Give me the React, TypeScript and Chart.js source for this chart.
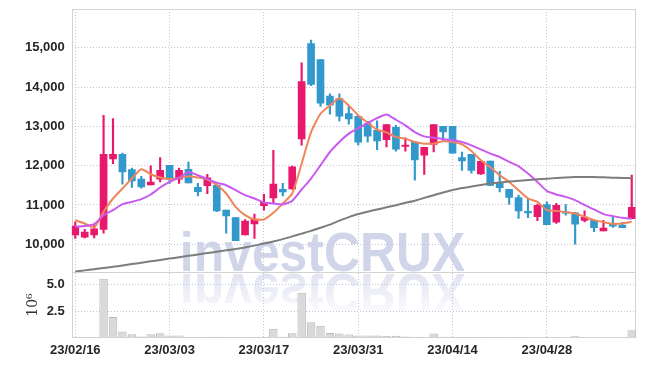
import React, { useEffect, useRef } from 'react';
import { Chart, registerables } from 'chart.js';

Chart.register(...registerables);

// ---- data ----
const tickIndex = [0, 10, 20, 30, 40, 50];
const tickLabels = ['23/02/16', '23/03/03', '23/03/17', '23/03/31', '23/04/14', '23/04/28'];

const openP = [10240, 10180, 10240, 10380, 12170, 12290, 11900, 11660, 11510, 11660,
  12010, 11660, 11910, 11450, 11490, 11500, 10870, 10680, 10240, 10520,
  10980, 11180, 11400, 11410, 12680, 15110, 14700, 13770, 13710, 13330,
  13260, 13080, 12900, 12660, 12980, 12490, 12600, 12270, 12540, 13000,
  13000, 12210, 12290, 11790, 12120, 11560, 11400, 11190, 10830, 10700,
  11010, 10560, 10820, 10800, 10610, 10610, 10340, 10510, 10490, 10650];
const highP = [10570, 10380, 10490, 13280, 13200, 12320, 11940, 11730, 12000, 12210,
  12010, 11940, 12090, 11550, 11780, 11520, 10870, 10680, 10630, 10770,
  11270, 12390, 11550, 11990, 14620, 15200, 14700, 13830, 13830, 13510,
  13260, 13130, 13140, 13050, 13030, 12710, 12600, 12470, 13050, 13000,
  13000, 12350, 12290, 12130, 12120, 11860, 11400, 11250, 11170, 11020,
  11080, 11040, 11010, 10810, 10850, 10620, 10610, 10700, 10560, 11760];
const lowP = [10150, 10160, 10160, 10280, 12050, 11530, 11450, 11430, 11510, 11590,
  11550, 11550, 11560, 11230, 11290, 10830, 10280, 10090, 10240, 10150,
  10870, 11040, 11230, 11400, 12520, 14040, 13510, 13310, 13140, 13060,
  12520, 12600, 12410, 12480, 12370, 12370, 11630, 11780, 12350, 12620,
  12320, 11880, 11810, 11780, 11490, 11330, 11020, 10660, 10680, 10600,
  10500, 10530, 10740, 10000, 10570, 10320, 10340, 10430, 10420, 10650];
const closeP = [10460, 10310, 10390, 12290, 12290, 11840, 11610, 11460, 11580, 11880,
  11650, 11880, 11560, 11340, 11690, 10850, 10720, 10090, 10590, 10640,
  11070, 11530, 11330, 11970, 14140, 14070, 13590, 13540, 13260, 13190,
  12600, 12750, 12630, 13050, 12420, 12520, 12150, 12470, 13050, 12860,
  12320, 12120, 11880, 12110, 11500, 11440, 11190, 10850, 10800, 10990,
  10500, 10990, 10790, 10510, 10690, 10420, 10410, 10460, 10420, 10940];

// volume, in millions
const volume = [0.08, 0.05, 0.05, 5.55, 1.95, 0.6, 0.33, 0.12, 0.33, 0.42,
  0.22, 0.22, 0.08, 0.06, 0.06, 0.1, 0.08, 0.08, 0.06, 0.08,
  0.06, 0.86, 0.1, 0.42, 4.24, 1.45, 1.14, 0.45, 0.4, 0.3,
  0.22, 0.22, 0.22, 0.2, 0.2, 0.12, 0.1, 0.08, 0.4, 0.1,
  0.08, 0.08, 0.06, 0.06, 0.08, 0.06, 0.05, 0.05, 0.03, 0.03,
  0.03, 0.03, 0.03, 0.15, 0.03, 0.03, 0.03, 0.03, 0.03, 0.7];

const maShort = [10614, 10530, 10429, 10825, 11165, 11419, 11673, 11909, 11782, 11699,
  11663, 11688, 11732, 11699, 11648, 11510, 11292, 10952, 10741, 10632,
  10632, 10800, 11038, 11292, 12054, 12857, 13324, 13534, 13720, 13534,
  13280, 13095, 12917, 12849, 12729, 12689, 12603, 12562, 12562, 12620,
  12603, 12544, 12374, 12138, 11960, 11757, 11587, 11376, 11165, 11079,
  10868, 10850, 10818, 10785, 10698, 10614, 10564, 10520, 10530, 10571];
const maMid = [10444, 10462, 10513, 10741, 10868, 11021, 11079, 11148, 11267, 11445,
  11587, 11699, 11833, 11757, 11663, 11565, 11503, 11376, 11249, 11165,
  11064, 11038, 11013, 11104, 11394, 11673, 12011, 12349, 12603, 12816,
  12955, 13085, 13212, 13306, 13170, 13027, 12857, 12747, 12714, 12679,
  12646, 12603, 12519, 12417, 12308, 12222, 12095, 11985, 11800, 11587,
  11359, 11267, 11206, 11122, 10995, 10886, 10767, 10716, 10673, 10647];
const maLong = [9304, 9335, 9365, 9395, 9425, 9460, 9495, 9530, 9565, 9600,
  9635, 9670, 9705, 9740, 9775, 9810, 9845, 9880, 9920, 9965,
  10020, 10070, 10130, 10200, 10270, 10340, 10420, 10500, 10600, 10690,
  10770, 10830, 10885, 10940, 10995, 11055, 11110, 11180, 11250, 11320,
  11380, 11430, 11470, 11510, 11546, 11570, 11595, 11615, 11635, 11655,
  11670, 11685, 11700, 11710, 11714, 11712, 11705, 11695, 11688, 11680];

// ---- styles ----
const UP = '#e8196c';
const DOWN = '#3399cc';
const GRID = 'rgba(185,185,210,0.85)';
const FRAME = '#d2d2d2';
const TICK_FONT = { family: "'Liberation Sans', Arial, sans-serif", size: 13, weight: 'bold' as const };

const watermarkPlugin = {
  id: 'watermark',
  beforeDatasetsDraw(chart: any) {
    const { ctx, scales } = chart;
    const baseY = scales.y.bottom - 1;
    const cx = chart.width / 2;
    const text = 'investCRUX';
    ctx.save();
    ctx.font = "bold 56px 'Liberation Sans', Arial, sans-serif";
    ctx.textAlign = 'center';
    ctx.textBaseline = 'alphabetic';
    ctx.save();
    ctx.translate(cx, baseY);
    ctx.scale(0.89, 1);
    ctx.fillStyle = 'rgba(196,203,228,0.8)';
    ctx.fillText(text, 0, 0);
    ctx.restore();
    ctx.save();
    ctx.beginPath();
    ctx.rect(0, baseY + 1, chart.width, 60);
    ctx.clip();
    ctx.translate(cx, baseY + 3);
    ctx.scale(0.89, -1);
    const g = ctx.createLinearGradient(0, 0, 0, -44);
    g.addColorStop(0, 'rgba(200,205,230,0.55)');
    g.addColorStop(1, 'rgba(200,205,230,0)');
    ctx.fillStyle = g;
    ctx.fillText(text, 0, 0);
    ctx.restore();
    ctx.restore();
  },
};

const framePlugin = {
  id: 'frame',
  beforeDatasetsDraw(chart: any) {
    const { ctx, chartArea, scales } = chart;
    ctx.save();
    ctx.strokeStyle = FRAME;
    ctx.lineWidth = 1;
    ctx.strokeRect(Math.round(chartArea.left) + 0.5, Math.round(chartArea.top) + 0.5,
      Math.round(chartArea.right - chartArea.left) - 1, Math.round(chartArea.bottom - chartArea.top) - 1);
    const sy = Math.round(scales.y.bottom) + 0.5;
    ctx.beginPath();
    ctx.moveTo(chartArea.left, sy);
    ctx.lineTo(chartArea.right, sy);
    ctx.stroke();
    ctx.restore();
  },
};

const fitY = (s: any) => { s.width = 71.7; s.paddingTop = 0; s.paddingBottom = 0; };

export default function App() {
  const ref = useRef<HTMLCanvasElement>(null);

  useEffect(() => {
    document.body.style.margin = '0';
    const idx = closeP.map((_, i) => i);
    const colors = idx.map((i) => (closeP[i] >= openP[i] ? UP : DOWN));
    const line = (vals: number[], color: string, w: number) => ({
      type: 'line' as const,
      data: vals.map((v, i) => ({ x: i, y: v })),
      borderColor: color,
      borderWidth: w,
      pointRadius: 0,
      tension: 0.2,
      yAxisID: 'y',
      order: 0,
    });

    const chart = new Chart(ref.current as HTMLCanvasElement, {
      type: 'bar',
      data: {
        datasets: [
          line(maLong, '#7d7d7d', 2),
          line(maMid, '#c95af0', 2),
          line(maShort, '#f0845a', 2),
          {
            type: 'bar',
            data: idx.map((i) => ({ x: i, y: [openP[i], closeP[i]] })),
            backgroundColor: colors,
            borderColor: colors,
            borderWidth: 0,
            barThickness: 7,
            minBarLength: 1.5,
            grouped: false,
            borderSkipped: false,
            yAxisID: 'y',
            order: 1,
          } as any,
          {
            type: 'bar',
            data: idx.map((i) => ({ x: i, y: [lowP[i], highP[i]] })),
            backgroundColor: colors,
            borderWidth: 0,
            barThickness: 1.5,
            grouped: false,
            borderSkipped: false,
            yAxisID: 'y',
            order: 2,
          } as any,
          {
            type: 'bar',
            data: idx.map((i) => ({ x: i, y: volume[i] })),
            backgroundColor: '#d9d9d9',
            borderColor: '#b9b9b9',
            borderWidth: 1,
            barPercentage: 0.9,
            categoryPercentage: 1,
            grouped: false,
            yAxisID: 'yv',
            order: 3,
          } as any,
        ],
      },
      options: {
        responsive: false,
        animation: false,
        events: [],
        layout: { padding: { top: 9, right: 9.3, bottom: 0, left: 0 } },
        plugins: { legend: { display: false }, tooltip: { enabled: false } },
        scales: {
          x: {
            type: 'linear',
            offset: false,
            min: -0.38,
            max: 59.42,
            afterBuildTicks: (s: any) => { s.ticks = tickIndex.map((v) => ({ value: v })); },
            afterFit: (s: any) => { s.height = 28.2; s.paddingLeft = 0; s.paddingRight = 0; },
            ticks: {
              callback: (v: any) => tickLabels[tickIndex.indexOf(Number(v))] ?? '',
              font: TICK_FONT,
              color: '#262626',
              padding: 5,
              maxRotation: 0,
              autoSkip: false,
            },
            grid: { color: GRID, drawTicks: false, lineWidth: 1, offset: false },
            border: { display: false, dash: [1, 2] },
          },
          yv: {
            type: 'linear',
            position: 'left',
            stack: 'panels',
            stackWeight: 1,
            min: 0,
            max: 6.15,
            afterBuildTicks: (s: any) => { s.ticks = [2.5, 5].map((v) => ({ value: v })); },
            afterFit: fitY,
            ticks: {
              callback: (v: any) => Number(v).toFixed(1),
              font: TICK_FONT,
              color: '#262626',
              padding: 7,
            },
            title: {
              display: true,
              text: '10⁶',
              font: { family: "'DejaVu Serif', 'Liberation Serif', serif", size: 14 },
              color: '#333',
              padding: { top: 25, bottom: 0 },
            },
            grid: { color: GRID, drawTicks: false, lineWidth: 1 },
            border: { display: false, dash: [1, 2] },
          },
          y: {
            type: 'linear',
            position: 'left',
            stack: 'panels',
            stackWeight: 4.02,
            min: 9286,
            max: 15990,
            afterBuildTicks: (s: any) => { s.ticks = [10000, 11000, 12000, 13000, 14000, 15000].map((v) => ({ value: v })); },
            afterFit: fitY,
            ticks: {
              callback: (v: any) => Number(v).toLocaleString('en-US'),
              font: TICK_FONT,
              color: '#262626',
              padding: 7,
            },
            grid: { color: GRID, drawTicks: false, lineWidth: 1 },
            border: { display: false, dash: [1, 2] },
          },
        },
      } as any,
      plugins: [watermarkPlugin, framePlugin],
    });
    return () => chart.destroy();
  }, []);

  return (
    <div style={{ width: 645, height: 366 }}>
      <canvas ref={ref} width={645} height={366} />
    </div>
  );
}
